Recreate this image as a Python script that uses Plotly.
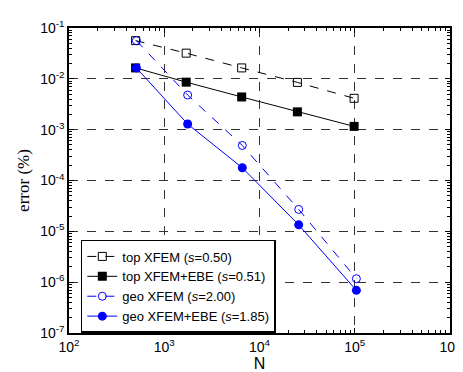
import plotly.graph_objects as go

x_top = [500, 1700, 6500, 25000, 98500]
x_geo = [510, 1760, 6600, 25800, 104000]
top_xfem = [0.0564, 0.032, 0.0164, 0.0085, 0.00414]
top_ebe = [0.0164, 0.0086, 0.0044, 0.00224, 0.00116]
geo_xfem = [0.0564, 0.0048, 4.89e-4, 2.7e-5, 1.17e-6]
geo_ebe = [0.0164, 1.29e-3, 1.78e-4, 1.34e-5, 6.9e-7]

xtick_vals = [1e2, 1e3, 1e4, 1e5, 1e6]
xtick_text = ["10<sup>2</sup>", "10<sup>3</sup>", "10<sup>4</sup>", "10<sup>5</sup>", "10<sup>6</sup>"]
ytick_vals = [1e-7, 1e-6, 1e-5, 1e-4, 1e-3, 1e-2, 1e-1]
ytick_text = ["10<sup>-7</sup>", "10<sup>-6</sup>", "10<sup>-5</sup>", "10<sup>-4</sup>",
              "10<sup>-3</sup>", "10<sup>-2</sup>", "10<sup>-1</sup>"]

names = ["top XFEM (<i>s</i>=0.50)", "top XFEM+EBE (<i>s</i>=0.51)",
         "geo XFEM (<i>s</i>=2.00)", "geo XFEM+EBE (<i>s</i>=1.85)"]

x_minor = [m * v for v in xtick_vals[:-1] for m in range(2, 10)]
y_minor = [m * v for v in ytick_vals[:-1] for m in range(2, 10)]

fig = go.Figure()
fig.add_trace(go.Scatter(x=x_top, y=top_xfem, name=names[0], mode="lines+markers",
                         line=dict(color="black", width=1, dash="dash"),
                         marker=dict(symbol="square-open", size=8, color="black", line=dict(width=1))))
fig.add_trace(go.Scatter(x=x_top, y=top_ebe, name=names[1], mode="lines+markers",
                         line=dict(color="black", width=1),
                         marker=dict(symbol="square", size=9, color="black")))
fig.add_trace(go.Scatter(x=x_geo, y=geo_xfem, name=names[2], mode="lines+markers",
                         line=dict(color="#0000ff", width=1, dash="dash"),
                         marker=dict(symbol="circle-open", size=8, color="#0000ff", line=dict(width=1))))
fig.add_trace(go.Scatter(x=x_geo, y=geo_ebe, name=names[3], mode="lines+markers",
                         line=dict(color="#0000ff", width=1),
                         marker=dict(symbol="circle", size=9, color="#0000ff")))

axis_common = dict(showline=True, linecolor="black", linewidth=1.5, mirror="allticks",
                   ticks="inside", ticklen=5, tickcolor="black",
                   showgrid=True, gridcolor="#333333", griddash="dash", gridwidth=1,
                   zeroline=False,
                   tickfont=dict(family="Liberation Sans, Arial", size=14, color="black"))

fig.update_xaxes(type="log", range=[2, 6], tickvals=xtick_vals, ticktext=xtick_text,
                 minor=dict(tickmode="array", tickvals=x_minor, ticks="inside", ticklen=3,
                            tickcolor="black", showgrid=False),
                 title=dict(text="N", font=dict(family="Liberation Sans, Arial", size=16, color="black"),
                            standoff=4),
                 **axis_common)
fig.update_yaxes(type="log", range=[-7, -1], tickvals=ytick_vals, ticktext=ytick_text,
                 minor=dict(tickmode="array", tickvals=y_minor, ticks="inside", ticklen=3,
                            tickcolor="black", showgrid=False),
                 title=dict(text="error (%)", font=dict(family="Liberation Serif", size=17,
                                                        color="black"), standoff=6),
                 **axis_common)

fig.update_layout(width=463, height=372, margin=dict(l=61, r=10, t=19, b=45),
                  plot_bgcolor="white", paper_bgcolor="white",
                  showlegend=True,
                  legend=dict(x=0.031, y=0.305, xanchor="left", yanchor="top",
                              bgcolor="white", bordercolor="black", borderwidth=1.5,
                              font=dict(family="Liberation Sans, Arial", size=13, color="black"),
                              tracegroupgap=0, itemwidth=30))

fig.write_html("out.html")
